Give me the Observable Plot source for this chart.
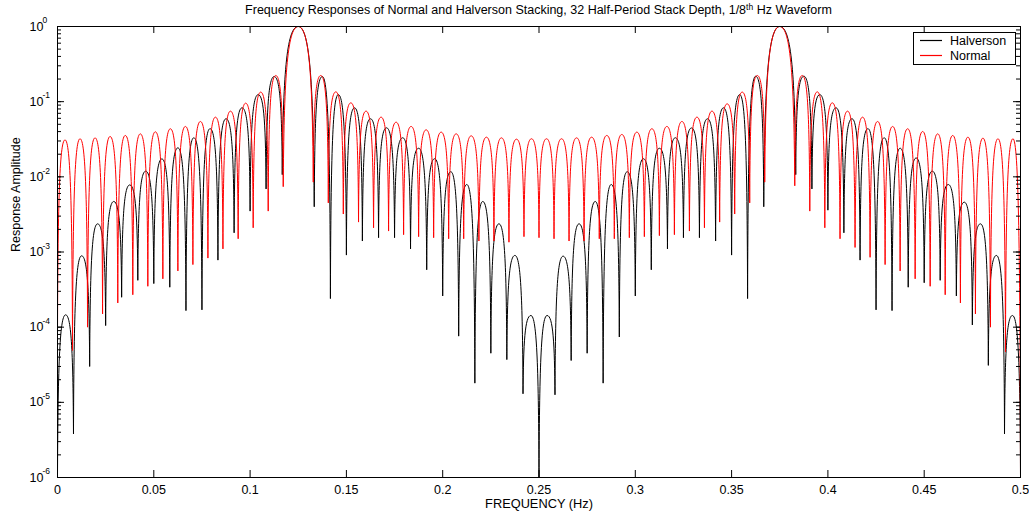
<!DOCTYPE html>
<html><head><meta charset="utf-8">
<script src="https://cdn.jsdelivr.net/npm/d3@7"></script>
<script src="https://cdn.jsdelivr.net/npm/@observablehq/plot@0.6"></script>
<style>body{margin:0;background:#fff;}</style>
</head><body><div id="chart"></div>
<script>
// Frequencies (Hz) of the alternating nulls / lobe peaks
const normalFreq = [0,0.0039,0.0078,0.0117,0.0156,0.0195,0.0234,0.0273,0.0313,0.0352,0.0391,0.0430,0.0469,0.0508,0.0547,0.0586,0.0625,0.0664,0.0703,0.0742,0.0781,0.0820,0.0859,0.0898,0.0938,0.0977,0.1016,0.1055,0.1094,0.1133,0.1172,0.125,0.1328,0.1367,0.1406,0.1445,0.1484,0.1523,0.1563,0.1602,0.1641,0.1680,0.1719,0.1758,0.1797,0.1836,0.1875,0.1914,0.1953,0.1992,0.2031,0.2070,0.2109,0.2148,0.2188,0.2227,0.2266,0.2305,0.2344,0.2383,0.2422,0.2461,0.25,0.2539,0.2578,0.2617,0.2656,0.2695,0.2734,0.2773,0.2813,0.2852,0.2891,0.2930,0.2969,0.3008,0.3047,0.3086,0.3125,0.3164,0.3203,0.3242,0.3281,0.3320,0.3359,0.3398,0.3438,0.3477,0.3516,0.3555,0.3594,0.3633,0.3672,0.375,0.3828,0.3867,0.3906,0.3945,0.3984,0.4023,0.4063,0.4102,0.4141,0.4180,0.4219,0.4258,0.4297,0.4336,0.4375,0.4414,0.4453,0.4492,0.4531,0.4570,0.4609,0.4648,0.4688,0.4727,0.4766,0.4805,0.4844,0.4883,0.4922,0.4961,0.5];
const normalAmp = [7.2e-5,0.0310,4.9e-5,0.0321,1.0e-4,0.0330,1.5e-4,0.0344,2.1e-4,0.0355,
2.7e-4,0.0373,3.5e-4,0.0397,4.4e-4,0.0436,5.6e-4,0.0468,6.8e-4,0.0545,
8.3e-4,0.0622,1.1e-3,0.0748,1.5e-3,0.0955,2.1e-3,0.134,3.5e-3,0.223,
7.4e-3,1,
8.5e-3,0.223,4.5e-3,0.135,3.2e-3,0.0964,2.5e-3,0.0748,2.1e-3,0.0622,
1.9e-3,0.0533,1.7e-3,0.0468,1.6e-3,0.0422,1.55e-3,0.0393,1.5e-3,0.0373,
1.5e-3,0.0351,1.4e-3,0.0337,1.4e-3,0.0330,1.35e-3,0.0317,1.6e-3,0.0321,
1.55e-3,0.0321,1.5e-3,0.0321,1.4e-3,0.0330,1.4e-3,0.0337,1.5e-3,0.0355,
1.5e-3,0.0366,1.55e-3,0.0393,1.6e-3,0.0436,1.65e-3,0.0468,1.7e-3,0.0545,
1.9e-3,0.0622,2.1e-3,0.0748,2.5e-3,0.0935,3.2e-3,0.134,4.5e-3,0.223,
8.5e-3,1,
7.6e-3,0.223,3.5e-3,0.135,2.1e-3,0.0964,1.5e-3,0.0748,1.15e-3,0.0622,
8.5e-4,0.0545,6.8e-4,0.0468,5.6e-4,0.0436,4.4e-4,0.0401,3.5e-4,0.0373,
2.7e-4,0.0355,2.1e-4,0.0337,1.5e-4,0.0327,1.0e-4,0.0321,4.7e-5,0.0321,
1e-6];
const halversonFreq = [0,0.0042,0.0083,0.0125,0.0167,0.0208,0.025,0.0292,0.0333,0.0375,
0.0417,0.0458,0.05,0.0542,0.0583,0.0625,0.0667,0.0708,0.075,0.0792,
0.0833,0.0875,0.0917,0.0958,0.1,0.1042,0.1083,0.1125,0.1167,
0.125,
0.1333,0.1375,0.1417,0.1458,0.15,0.1542,0.1583,0.1625,0.1667,0.1708,
0.175,0.1792,0.1833,0.1875,0.1917,0.1958,0.2,0.2042,0.2083,0.2125,
0.2167,0.2208,0.225,0.2292,0.2333,0.2375,0.2417,0.2458,0.25,0.2542,
0.2583,0.2625,0.2667,0.2708,0.275,0.2792,0.2833,0.2875,0.2917,0.2958,
0.3,0.3042,0.3083,0.3125,0.3167,0.3208,0.325,0.3292,0.3333,0.3375,
0.3417,0.3458,0.35,0.3542,0.3583,0.3625,0.3667,
0.375,
0.3833,0.3875,0.3917,0.3958,0.4,0.4042,0.4083,0.4125,0.4167,0.4208,
0.425,0.4292,0.4333,0.4375,0.4417,0.4458,0.45,0.4542,0.4583,0.4625,
0.4667,0.4708,0.475,0.4792,0.4833,0.4875,0.4917,0.4958,0.5];
const halversonAmp = [1e-6,1.46e-4,3.8e-6,8.9e-4,3.0e-5,2.37e-3,1.05e-4,4.7e-3,2.5e-4,7.8e-3,
4.2e-4,0.0119,3.8e-4,0.0173,3.4e-4,0.0243,1.66e-4,0.0331,1.7e-4,0.0437,
7.8e-4,0.0592,1.8e-3,0.0828,3.5e-3,0.124,6.9e-3,0.216,0.0107,
1,
4.0e-3,0.216,2.4e-4,0.124,9.1e-4,0.0828,1.4e-3,0.0592,1.55e-3,0.0449,
1.55e-3,0.0331,1.1e-3,0.0240,5.8e-4,0.0174,2.6e-4,0.0117,7.6e-5,7.9e-3,
1.8e-5,4.7e-3,4.5e-5,2.37e-3,3.7e-5,9.0e-4,1.3e-5,1.43e-4,1e-6,1.43e-4,
1.26e-5,8.8e-4,3.6e-5,2.37e-3,4.5e-5,4.7e-3,1.8e-5,7.9e-3,7.4e-5,0.0117,
2.6e-4,0.0174,5.8e-4,0.0240,1.1e-3,0.0331,1.55e-3,0.0447,1.55e-3,0.0592,
1.4e-3,0.0828,9.1e-4,0.124,2.4e-4,0.218,4.0e-3,
1,
0.0107,0.218,6.9e-3,0.124,3.6e-3,0.0828,1.8e-3,0.0592,7.8e-4,0.0437,
1.7e-4,0.0331,1.66e-4,0.0240,3.4e-4,0.0178,3.9e-4,0.0119,4.2e-4,7.9e-3,
2.6e-4,4.6e-3,1.07e-4,2.37e-3,3.1e-5,9.0e-4,3.8e-6,1.43e-4,1e-6];

const xTicks = [0,0.05,0.1,0.15,0.2,0.25,0.3,0.35,0.4,0.45,0.5];
const xTickLabels = ["0","0.05","0.1","0.15","0.2","0.25","0.3","0.35","0.4","0.45","0.5"];
const yTicks = [1e-6,1e-5,1e-4,1e-3,1e-2,1e-1,1];
const yExp = ["-6","-5","-4","-3","-2","-1","0"];
const seriesNames = ["Halverson","Normal"];
const seriesColors = ["#000000","#ff0000"];
const titleMain = "Frequency Responses of Normal and Halverson Stacking, 32 Half-Period Stack Depth, 1/8";
const titleSup = "th";
const titleEnd = " Hz Waveform";

const halverson = halversonFreq.map((f, i) => ({f, a: halversonAmp[i]}));
const normal = normalFreq.map((f, i) => ({f, a: normalAmp[i]}));

// Lobe-shaped curve: steep (vertical) at the nulls, rounded at the peaks
function LobeCurve(context) { this._context = context; }
LobeCurve.prototype = {
  areaStart() { this._line = 0; },
  areaEnd() { this._line = NaN; },
  lineStart() { this._point = 0; },
  lineEnd() { if (this._line) this._context.closePath(); },
  point(x, y) {
    x = +x; y = +y;
    if (this._point === 0) {
      this._point = 1;
      this._line ? this._context.lineTo(x, y) : this._context.moveTo(x, y);
    } else {
      const x0 = this._x0, y0 = this._y0, dx = x - x0;
      if (y < y0) {
        this._context.bezierCurveTo(x0 + 0.05 * dx, y0 + 0.65 * (y - y0), x0 + 0.25 * dx, y, x, y);
      } else {
        this._context.bezierCurveTo(x0 + 0.75 * dx, y0, x - 0.05 * dx, y0 + 0.35 * (y - y0), x, y);
      }
    }
    this._x0 = x; this._y0 = y;
  }
};
const curveLobe = (context) => new LobeCurve(context);

const W = 1029, H = 514, ML = 57, MR = 9, MT = 26, MB = 37;
const FW = W - ML - MR, FH = H - MT - MB;
const yMinor = d3.scaleLog().domain([1e-6, 1]).ticks();

const plot = Plot.plot({
  width: W, height: H,
  marginLeft: ML, marginRight: MR, marginTop: MT, marginBottom: MB,
  style: {fontFamily: "'Liberation Sans', Arial, Helvetica, sans-serif", fontSize: "12px", background: "#fff", color: "#000", overflow: "visible"},
  x: {domain: [0, 0.5], axis: null},
  y: {type: "log", domain: [1e-6, 1], axis: null},
  marks: [
    Plot.line(halverson, {x: "f", y: "a", stroke: seriesColors[0], strokeWidth: 1, curve: curveLobe}),
    Plot.line(normal, {x: "f", y: "a", stroke: seriesColors[1], strokeWidth: 1, curve: curveLobe}),
    Plot.ruleX(xTicks, {insetTop: FH - 7, stroke: "#000"}),
    Plot.ruleX(xTicks, {insetBottom: FH - 7, stroke: "#000"}),
    Plot.ruleY(yMinor, {insetRight: FW - 4, stroke: "#000"}),
    Plot.ruleY(yMinor, {insetLeft: FW - 4, stroke: "#000"}),
    Plot.ruleY(yTicks, {insetRight: FW - 7, stroke: "#000"}),
    Plot.ruleY(yTicks, {insetLeft: FW - 7, stroke: "#000"}),
    Plot.frame({stroke: "#000"}),
    Plot.text(xTicks, {x: d => d, frameAnchor: "bottom", dy: 12, lineAnchor: "middle", fontSize: 12.5, text: (d, i) => xTickLabels[i]}),
    Plot.text(yTicks, {y: d => d, frameAnchor: "left", dx: -28, textAnchor: "start", lineAnchor: "middle", fontSize: 12.5, text: () => "10"}),
    Plot.text(yTicks, {y: d => d, frameAnchor: "left", dx: -15, dy: -6, textAnchor: "start", lineAnchor: "middle", fontSize: 8.5, text: (d, i) => yExp[i]}),
    Plot.text(["Response Amplitude"], {frameAnchor: "left", dx: -42, rotate: -90, lineAnchor: "middle", fontSize: 12.5}),
    Plot.text(["FREQUENCY (Hz)"], {frameAnchor: "bottom", dy: 26, lineAnchor: "middle", fontSize: 12.8})
  ]
});

const svg = d3.select(plot);
const title = svg.append("text")
  .attr("x", ML + FW / 2).attr("y", 14)
  .attr("text-anchor", "middle").attr("font-size", 12.5).attr("fill", "#000");
title.append("tspan").text(titleMain);
title.append("tspan").attr("dy", -4).attr("font-size", 8.5).text(titleSup);
title.append("tspan").attr("dy", 4).text(titleEnd);

const lg = svg.append("g").attr("text-anchor", "start");
lg.append("rect").attr("x", 913.5).attr("y", 32.5).attr("width", 102).attr("height", 32)
  .attr("fill", "#fff").attr("stroke", "#000");
seriesNames.forEach((name, i) => {
  const yy = 40.5 + i * 15;
  lg.append("rect").attr("x", 920).attr("y", yy - 0.6).attr("width", 22).attr("height", 1.2)
    .attr("stroke", "none").attr("fill", seriesColors[i]).style("fill", seriesColors[i]);
  lg.append("text").attr("x", 950).attr("y", yy).attr("dy", "0.35em")
    .attr("text-anchor", "start").attr("font-size", 12.5).attr("fill", "#000").text(name);
});

document.getElementById("chart").appendChild(plot);
</script>
</body></html>
